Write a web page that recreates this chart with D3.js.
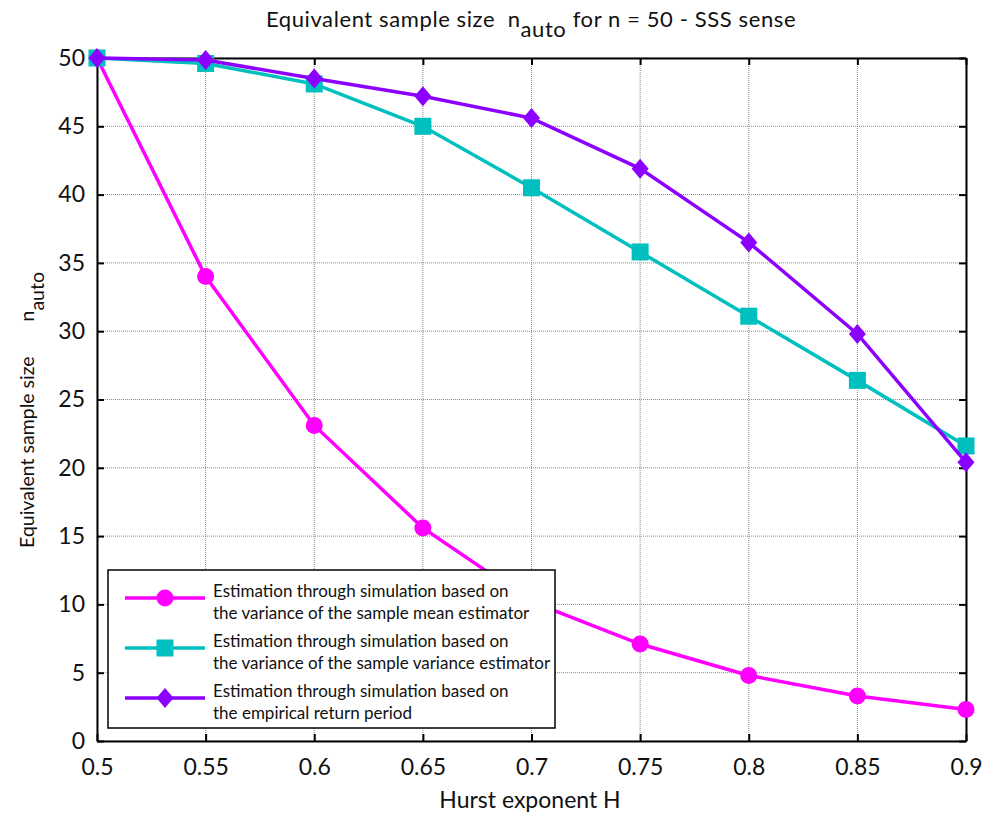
<!DOCTYPE html>
<html><head><meta charset="utf-8">
<script src="https://cdn.jsdelivr.net/npm/d3@7"></script>
<style>body{margin:0;background:#fff}svg{display:block}text{font-family:Lato,"Open Sans",sans-serif;fill:#111;white-space:pre}</style>
</head><body>
<svg id="c" width="985" height="814"></svg>
<script>
const hurst = [0.5,0.55,0.6,0.65,0.7,0.75,0.8,0.85,0.9];
const meanEst = [50,34.0,23.1,15.6,10.2,7.1,4.8,3.3,2.3];
const varEst = [50,49.6,48.1,45.0,40.5,35.8,31.1,26.4,21.6];
const returnPeriod = [50,49.85,48.5,47.2,45.6,41.9,36.5,29.8,20.4];
const xTicks = [0.5,0.55,0.6,0.65,0.7,0.75,0.8,0.85,0.9];
const yTicks = [0,5,10,15,20,25,30,35,40,45,50];
const legendLabels = [
  ["Estimation through simulation based on","the variance of the sample mean estimator"],
  ["Estimation through simulation based on","the variance of the sample variance estimator"],
  ["Estimation through simulation based on","the empirical return period"]
];
const series = [
  {vals: meanEst, color:"#ff00ff", marker:"circle"},
  {vals: varEst, color:"#00bfbf", marker:"square"},
  {vals: returnPeriod, color:"#8c00ff", marker:"diamond"}
];

const svg = d3.select("#c");
const L=97, R=966, T=58, B=741;
const x = d3.scaleLinear().domain([0.5,0.9]).range([L,R]);
const y = d3.scaleLinear().domain([0,50]).range([B,T]);

// grid
const g = svg.append("g");
g.selectAll(".vg").data(xTicks).enter().append("line")
  .attr("x1",d=>x(d)).attr("x2",d=>x(d)).attr("y1",T).attr("y2",B)
  .attr("stroke","#888").attr("stroke-width",1).attr("stroke-dasharray","1,1");
g.selectAll(".hg").data(yTicks).enter().append("line")
  .attr("x1",L).attr("x2",R).attr("y1",d=>y(d)).attr("y2",d=>y(d))
  .attr("stroke","#888").attr("stroke-width",1).attr("stroke-dasharray","1,1");

// axes (ticks inside)
const ax = (gen, tr) => svg.append("g").attr("transform",tr).call(gen);
const xb = ax(d3.axisBottom(x).tickValues(xTicks).tickSizeInner(-7).tickSizeOuter(0).tickPadding(18).tickFormat(d=>d3.format("")(d)),`translate(0,${B})`);
const xt = ax(d3.axisTop(x).tickValues(xTicks).tickSizeInner(-7).tickSizeOuter(0).tickFormat(""),`translate(0,${T})`);
const yl = ax(d3.axisLeft(y).tickValues(yTicks).tickSizeInner(-7).tickSizeOuter(0).tickPadding(12),`translate(${L},0)`);
const yr = ax(d3.axisRight(y).tickValues(yTicks).tickSizeInner(-7).tickSizeOuter(0).tickFormat(""),`translate(${R},0)`);
[xb,xt,yl,yr].forEach(a=>{
  a.selectAll(".domain").attr("stroke","#000").attr("stroke-width",2);
  a.selectAll(".tick line").attr("stroke","#000").attr("stroke-width",2);
  a.selectAll("text").style("font-size","23px").attr("fill","#111");
});

// lines
const line = d3.line().x((d,i)=>x(hurst[i])).y(d=>y(d));
function drawMarker(sel, type, color, cx, cy){
  if(type==="circle") sel.append("circle").attr("cx",cx).attr("cy",cy).attr("r",8.5).attr("fill",color);
  else if(type==="square") sel.append("rect").attr("x",cx-8.5).attr("y",cy-8.5).attr("width",17).attr("height",17).attr("fill",color);
  else sel.append("path").attr("d",`M${cx},${cy-10}L${cx+8.5},${cy}L${cx},${cy+10}L${cx-8.5},${cy}Z`).attr("fill",color);
}
series.forEach(s=>{
  svg.append("path").datum(s.vals).attr("d",line).attr("fill","none")
    .attr("stroke",s.color).attr("stroke-width",3.5);
  const mg = svg.append("g");
  s.vals.forEach((v,i)=>drawMarker(mg,s.marker,s.color,x(hurst[i]),y(v)));
});

// legend
const lg = svg.append("g");
lg.append("rect").attr("x",108).attr("y",570).attr("width",447).attr("height",158)
  .attr("fill","#fff").attr("stroke","#000").attr("stroke-width",1.5);
series.forEach((s,i)=>{
  const cy = 598 + i*50;
  lg.append("line").attr("x1",125).attr("x2",205).attr("y1",cy).attr("y2",cy)
    .attr("stroke",s.color).attr("stroke-width",3.5);
  drawMarker(lg,s.marker,s.color,165,cy);
  legendLabels[i].forEach((t,j)=>{
    lg.append("text").attr("x",213).attr("y",cy-1+j*22).text(t).style("font-size","17px");
  });
});

// titles
const title = svg.append("text").attr("x",531).attr("y",27).attr("text-anchor","middle").style("font-size","22px").style("letter-spacing","0.6px");
title.append("tspan").text("Equivalent sample size  n");
title.append("tspan").attr("dy",10).text("auto");
title.append("tspan").attr("dy",-10).text(" for n = 50 - SSS sense");

svg.append("text").attr("x",530).attr("y",808).attr("text-anchor","middle").style("font-size","23px").text("Hurst exponent H");

const yt = svg.append("text").attr("transform","translate(34,410) rotate(-90)").attr("text-anchor","middle").style("font-size","19.5px");
yt.append("tspan").text("Equivalent sample size       n");
yt.append("tspan").attr("dy",10).text("auto");
</script>
</body></html>
